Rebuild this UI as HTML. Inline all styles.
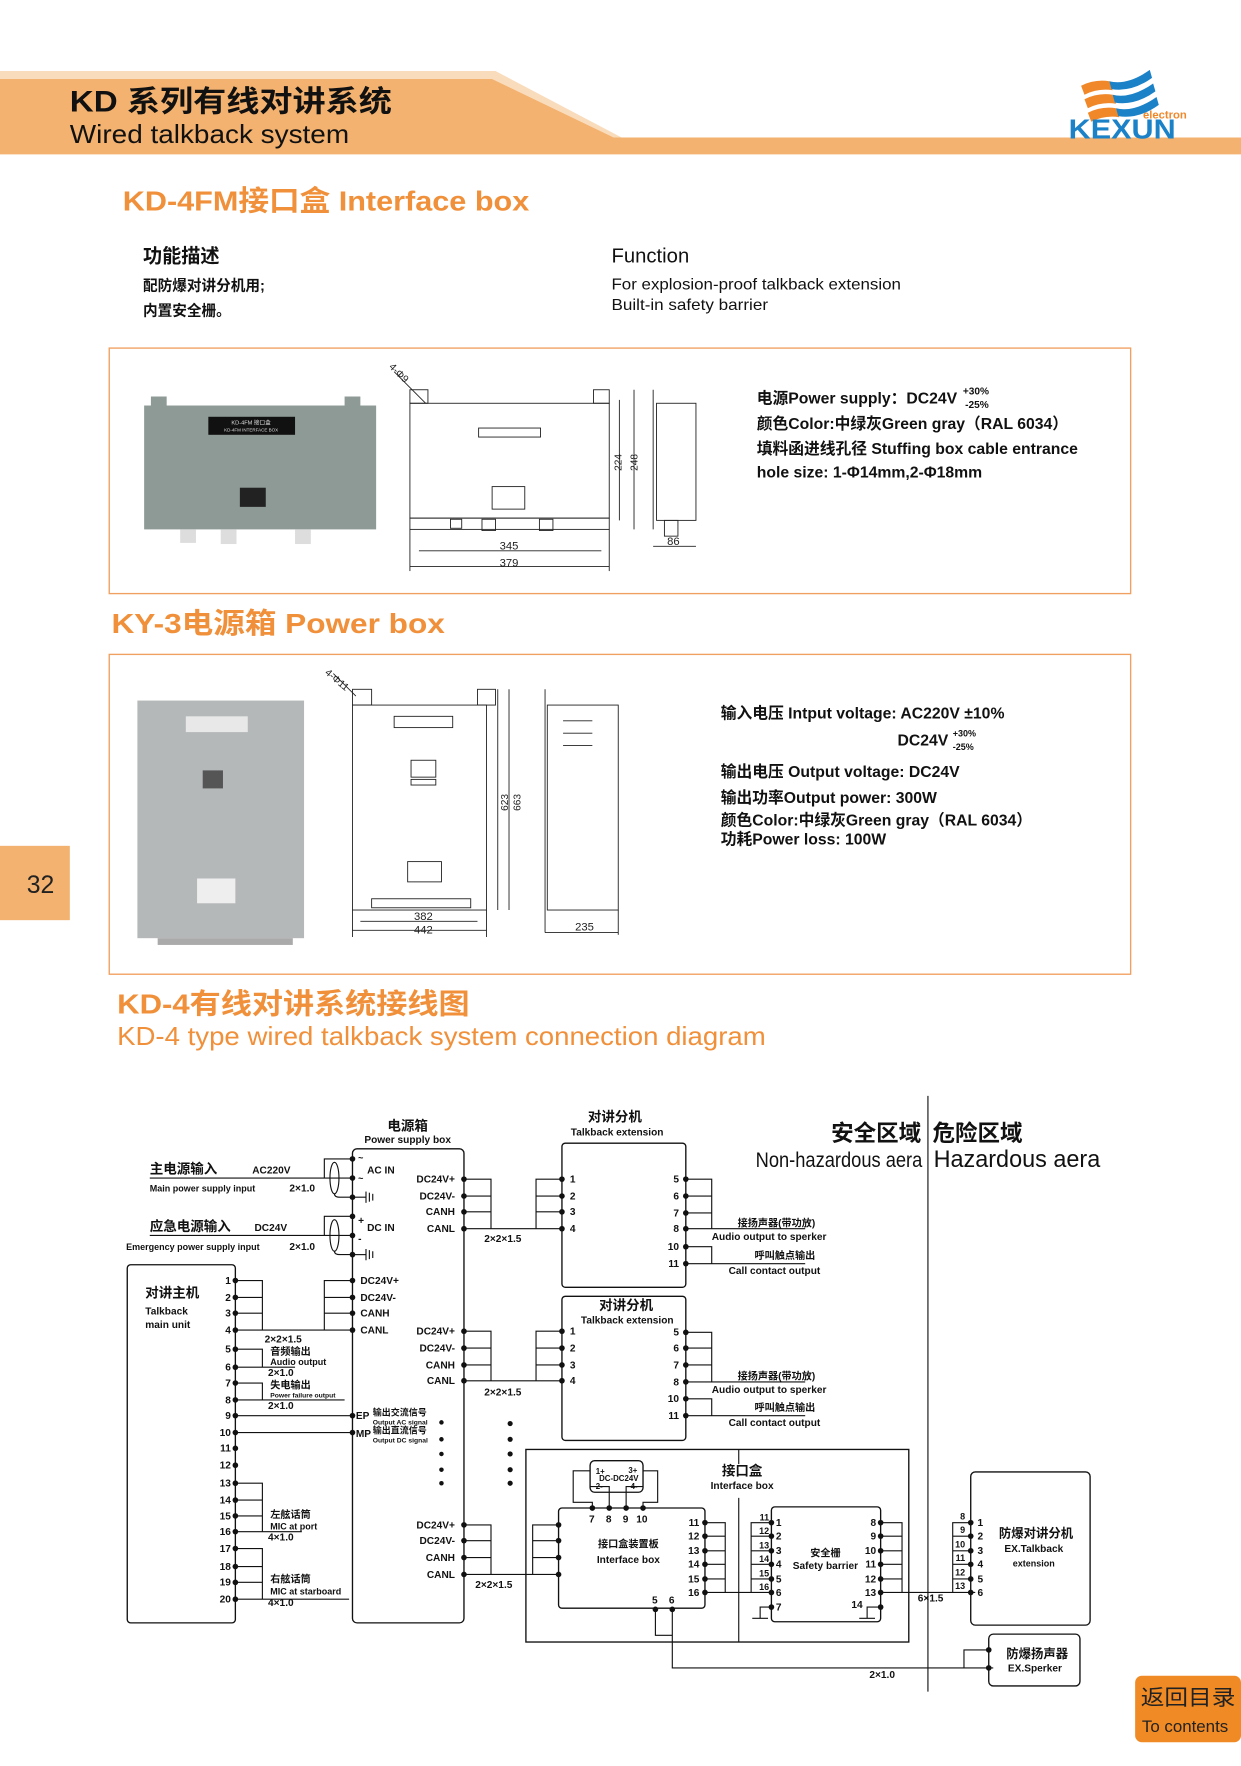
<!DOCTYPE html>
<html><head><meta charset="utf-8">
<style>
html,body{margin:0;padding:0;background:#fff;}
svg{display:block;}
text{font-family:"Liberation Sans","Noto Sans CJK SC",sans-serif;}
.b{font-weight:bold;}
.d text{font-weight:bold;fill:#111;}
.d line,.d polyline,.d path{stroke:#111;stroke-width:1;fill:none;}
.d rect{stroke:#111;stroke-width:1.2;fill:none;}
.d circle{fill:#111;}
.dr line,.dr rect,.dr polyline{stroke:#222;stroke-width:0.8;fill:none;}
.dr text{fill:#222;}
</style></head><body>
<svg width="1241" height="1766" viewBox="0 0 1102 1568" xmlns="http://www.w3.org/2000/svg">
<!-- header -->
<polygon points="0,63 440,63 552,122 545,122 437,70 0,70" fill="#f9dcbc"/>
<polygon points="0,70 437,70 545,122 1102,122 1102,137 0,137" fill="#f3b26f"/>
<text x="62" y="99" font-size="26" class="b" fill="#111" textLength="286" lengthAdjust="spacingAndGlyphs">KD 系列有线对讲系统</text>
<text x="62" y="127" font-size="23" fill="#111" textLength="248" lengthAdjust="spacingAndGlyphs">Wired talkback system</text>
<!-- logo -->
<g>
<path d="M960,76 q12,-6 25,-4 l3,8 q-13,-2 -25,4z" fill="#f0882a"/>
<path d="M963,88 q12,-6 25,-4 l3,8 q-13,-2 -25,4z" fill="#f0882a"/>
<path d="M966,100 q12,-6 25,-4 l3,8 q-13,-2 -25,4z" fill="#f0882a"/>
<path d="M985,72 q16,4 36,-10 l2,7 q-18,13 -36,10z" fill="#1b82c8"/>
<path d="M988,84 q16,4 36,-10 l2,7 q-18,13 -36,10z" fill="#1b82c8"/>
<path d="M991,96 q16,4 36,-10 l2,7 q-18,13 -36,10z" fill="#1b82c8"/>
<text x="1015" y="105" font-size="10" fill="#f0882a" class="b">electron</text>
<text x="949" y="123" font-size="25" fill="#1b82c8" class="b" textLength="95" lengthAdjust="spacingAndGlyphs">KEXUN</text>
</g>
<text x="109" y="187" font-size="25" fill="#f0903a" class="b" textLength="361" lengthAdjust="spacingAndGlyphs">KD-4FM接口盒 Interface box</text>
<text x="127" y="233" font-size="17" class="b" fill="#111">功能描述</text>
<text x="127" y="258" font-size="13" class="b" fill="#111">配防爆对讲分机用;</text>
<text x="127" y="280" font-size="13" class="b" fill="#111">内置安全栅。</text>
<text x="543" y="233" font-size="18" fill="#111">Function</text>
<text x="543" y="257" font-size="14" fill="#111" textLength="257" lengthAdjust="spacingAndGlyphs">For explosion-proof talkback extension</text>
<text x="543" y="275" font-size="14" fill="#111" textLength="139" lengthAdjust="spacingAndGlyphs">Built-in safety barrier</text>
<!-- box 1 -->
<rect x="97" y="309" width="907" height="218" fill="none" stroke="#f0a060" stroke-width="1.2"/>
<rect x="128" y="360" width="206" height="110" fill="#8d9a95"/>
<rect x="134" y="352" width="14" height="10" fill="#8d9a95"/><rect x="306" y="352" width="14" height="10" fill="#8d9a95"/>
<rect x="185" y="370" width="77" height="16" fill="#111"/>
<text x="223" y="377" font-size="5" fill="#ddd" text-anchor="middle">KD-4FM 接口盒</text>
<text x="223" y="383" font-size="4" fill="#ddd" text-anchor="middle">KD-4FM INTERFACE BOX</text>
<rect x="213" y="433" width="23" height="17" fill="#222"/>
<rect x="160" y="470" width="14" height="12" fill="#ddd"/><rect x="196" y="470" width="14" height="13" fill="#ddd"/><rect x="262" y="470" width="14" height="13" fill="#ddd"/>
<g class="dr">
<rect x="364" y="358" width="177" height="102"/>
<rect x="364" y="346" width="16" height="12"/><rect x="527" y="346" width="14" height="12"/>
<rect x="364" y="460" width="177" height="10"/>
<rect x="425" y="380" width="55" height="8"/><rect x="437" y="432" width="29" height="20"/>
<rect x="400" y="461" width="10" height="8"/><rect x="428" y="461" width="12" height="10"/><rect x="479" y="461" width="12" height="10"/>
<line x1="372" y1="489" x2="534" y2="489"/><line x1="364" y1="503" x2="541" y2="503"/>
<line x1="364" y1="470" x2="364" y2="507"/><line x1="541" y1="470" x2="541" y2="507"/>
<line x1="550" y1="355" x2="550" y2="462"/><line x1="563" y1="346" x2="563" y2="470"/>
<line x1="580" y1="346" x2="580" y2="470"/><rect x="583" y="358" width="35" height="104"/>
<rect x="590" y="462" width="12" height="14"/>
<line x1="580" y1="485" x2="618" y2="485"/>
<line x1="350" y1="330" x2="378" y2="358"/>
</g>
<text x="452" y="488" font-size="10" text-anchor="middle" fill="#222">345</text>
<text x="452" y="503" font-size="10" text-anchor="middle" fill="#222">379</text>
<text x="598" y="484" font-size="10" text-anchor="middle" fill="#222">86</text>
<text transform="translate(552,418) rotate(-90)" font-size="9" fill="#222">224</text>
<text transform="translate(566,418) rotate(-90)" font-size="9" fill="#222">248</text>
<text transform="translate(345,326) rotate(45)" font-size="9" fill="#222">4-Φ9</text>
<text x="672" y="358" font-size="14" class="b" fill="#111">电源Power supply：DC24V</text>
<text x="855" y="350" font-size="9" class="b" fill="#111">+30%</text>
<text x="857" y="362" font-size="9" class="b" fill="#111">-25%</text>
<text x="672" y="381" font-size="14" class="b" fill="#111">颜色Color:中绿灰Green gray（RAL 6034）</text>
<text x="672" y="403" font-size="14" class="b" fill="#111">填料函进线孔径 Stuffing box cable entrance</text>
<text x="672" y="424" font-size="14" class="b" fill="#111">hole size: 1-Φ14mm,2-Φ18mm</text>
<!-- box 2 -->
<text x="99" y="562" font-size="25" fill="#f0903a" class="b" textLength="296" lengthAdjust="spacingAndGlyphs">KY-3电源箱  Power box</text>
<rect x="97" y="581" width="907" height="284" fill="none" stroke="#f0a060" stroke-width="1.2"/>
<rect x="122" y="622" width="148" height="211" fill="#b5b8b9"/>
<rect x="165" y="636" width="55" height="14" fill="#e8e8e8"/>
<rect x="180" y="684" width="18" height="16" fill="#555"/>
<rect x="175" y="780" width="34" height="22" fill="#eee"/>
<rect x="140" y="833" width="120" height="6" fill="#aaa"/>
<g class="dr">
<rect x="313" y="626" width="119" height="182"/>
<rect x="313" y="612" width="17" height="14"/><rect x="424" y="612" width="16" height="14"/>
<rect x="330" y="798" width="88" height="8"/>
<rect x="350" y="636" width="52" height="10"/><rect x="365" y="675" width="22" height="15"/><rect x="365" y="692" width="22" height="5"/>
<rect x="362" y="765" width="30" height="18"/>
<line x1="313" y1="808" x2="313" y2="832"/><line x1="432" y1="808" x2="432" y2="832"/>
<line x1="320" y1="818" x2="424" y2="818"/><line x1="313" y1="826" x2="432" y2="826"/>
<line x1="442" y1="612" x2="442" y2="808"/><line x1="452" y1="612" x2="452" y2="808"/>
<line x1="484" y1="612" x2="484" y2="828"/><rect x="486" y="626" width="63" height="182"/>
<line x1="500" y1="640" x2="526" y2="640"/><line x1="500" y1="651" x2="526" y2="651"/><line x1="500" y1="662" x2="526" y2="662"/>
<line x1="549" y1="808" x2="549" y2="830"/><line x1="484" y1="828" x2="549" y2="828"/>
<line x1="296" y1="598" x2="316" y2="618"/>
</g>
<text x="376" y="817" font-size="10" text-anchor="middle" fill="#222">382</text>
<text x="376" y="829" font-size="10" text-anchor="middle" fill="#222">442</text>
<text x="519" y="826" font-size="10" text-anchor="middle" fill="#222">235</text>
<text transform="translate(451,720) rotate(-90)" font-size="9" fill="#222">623</text>
<text transform="translate(462,720) rotate(-90)" font-size="9" fill="#222">663</text>
<text transform="translate(288,598) rotate(40)" font-size="9" fill="#222">4-Φ11</text>
<text x="640" y="638" font-size="14" class="b" fill="#111">输入电压 Intput voltage: AC220V ±10%</text>
<text x="797" y="662" font-size="14" class="b" fill="#111">DC24V</text>
<text x="846" y="654" font-size="8" class="b" fill="#111">+30%</text>
<text x="846" y="666" font-size="8" class="b" fill="#111">-25%</text>
<text x="640" y="690" font-size="14" class="b" fill="#111">输出电压 Output voltage:  DC24V</text>
<text x="640" y="713" font-size="14" class="b" fill="#111">输出功率Output power: 300W</text>
<text x="640" y="733" font-size="14" class="b" fill="#111">颜色Color:中绿灰Green gray（RAL 6034）</text>
<text x="640" y="750" font-size="14" class="b" fill="#111">功耗Power loss: 100W</text>
<!-- page tab -->
<rect x="0" y="751" width="62" height="66" fill="#f3b26f"/>
<text x="36" y="793" font-size="22" fill="#222" text-anchor="middle">32</text>
<!-- diagram title -->
<text x="104" y="900" font-size="25" fill="#f0903a" class="b" textLength="313" lengthAdjust="spacingAndGlyphs">KD-4有线对讲系统接线图</text>
<text x="104" y="928" font-size="23" fill="#f0903a" textLength="576" lengthAdjust="spacingAndGlyphs">KD-4  type wired talkback system connection diagram</text>

<g class="d">
<line x1="824" y1="973" x2="824" y2="1502"/>
<text x="818" y="1013" font-size="20" text-anchor="end">安全区域</text>
<text x="828" y="1013" font-size="20">危险区域</text>
<text x="671" y="1036" font-size="19" style="font-weight:normal" textLength="148" lengthAdjust="spacingAndGlyphs">Non-hazardous aera</text>
<text x="829" y="1036" font-size="21" style="font-weight:normal" textLength="148" lengthAdjust="spacingAndGlyphs">Hazardous aera</text>

<!-- power box -->
<rect x="313" y="1020" width="99" height="421" rx="4"/>
<text x="362" y="1004" font-size="12" text-anchor="middle">电源箱</text>
<text x="362" y="1015" font-size="9" text-anchor="middle">Power supply box</text>
<text x="318" y="1031" font-size="8">~</text>
<text x="326" y="1042" font-size="9">AC IN</text>
<text x="318" y="1049" font-size="8">~</text>
<text x="318" y="1087" font-size="9">+</text>
<text x="326" y="1093" font-size="9">DC IN</text>
<text x="318" y="1103" font-size="9">-</text>
<g font-size="9">
<text x="404" y="1050" text-anchor="end">DC24V+</text><text x="404" y="1065" text-anchor="end">DC24V-</text><text x="404" y="1079" text-anchor="end">CANH</text><text x="404" y="1094" text-anchor="end">CANL</text>
<text x="320" y="1140">DC24V+</text><text x="320" y="1155">DC24V-</text><text x="320" y="1169">CANH</text><text x="320" y="1184">CANL</text>
<text x="404" y="1185" text-anchor="end">DC24V+</text><text x="404" y="1200" text-anchor="end">DC24V-</text><text x="404" y="1215" text-anchor="end">CANH</text><text x="404" y="1229" text-anchor="end">CANL</text>
<text x="404" y="1357" text-anchor="end">DC24V+</text><text x="404" y="1371" text-anchor="end">DC24V-</text><text x="404" y="1386" text-anchor="end">CANH</text><text x="404" y="1401" text-anchor="end">CANL</text>
</g>
<text x="316" y="1260" font-size="9">EP</text><text x="331" y="1257" font-size="8">输出交流信号</text><text x="331" y="1265" font-size="6">Output AC signal</text>
<text x="316" y="1276" font-size="9">MP</text><text x="331" y="1273" font-size="8">输出直流信号</text><text x="331" y="1281" font-size="6">Output DC signal</text>
<g>
<circle cx="313" cy="1029" r="2.5"/><circle cx="313" cy="1046" r="2.5"/><circle cx="313" cy="1063" r="2.5"/>
<circle cx="313" cy="1080" r="2.5"/><circle cx="313" cy="1097" r="2.5"/><circle cx="313" cy="1114" r="2.5"/>
<circle cx="313" cy="1137" r="2.5"/><circle cx="313" cy="1152" r="2.5"/><circle cx="313" cy="1166" r="2.5"/><circle cx="313" cy="1181" r="2.5"/>
<circle cx="313" cy="1257" r="2.5"/><circle cx="313" cy="1272" r="2.5"/>
<circle cx="412" cy="1047" r="2.5"/><circle cx="412" cy="1062" r="2.5"/><circle cx="412" cy="1076" r="2.5"/><circle cx="412" cy="1091" r="2.5"/>
<circle cx="412" cy="1182" r="2.5"/><circle cx="412" cy="1197" r="2.5"/><circle cx="412" cy="1212" r="2.5"/><circle cx="412" cy="1226" r="2.5"/>
<circle cx="412" cy="1354" r="2.5"/><circle cx="412" cy="1368" r="2.5"/><circle cx="412" cy="1383" r="2.5"/><circle cx="412" cy="1398" r="2.5"/>
<circle cx="392" cy="1263" r="2"/><circle cx="392" cy="1278" r="2"/><circle cx="392" cy="1291" r="2"/><circle cx="392" cy="1305" r="2"/><circle cx="392" cy="1317" r="2"/>
<circle cx="453" cy="1264" r="2.3"/><circle cx="453" cy="1278" r="2.3"/><circle cx="453" cy="1291" r="2.3"/><circle cx="453" cy="1305" r="2.3"/><circle cx="453" cy="1317" r="2.3"/>
</g>
<!-- mains input -->
<text x="133" y="1042" font-size="12">主电源输入</text><text x="224" y="1042" font-size="9">AC220V</text>
<line x1="133" y1="1046" x2="313" y2="1046"/>
<text x="133" y="1058" font-size="8">Main power supply input</text><text x="257" y="1058" font-size="9">2×1.0</text>
<polyline points="313,1029 288,1029 288,1046"/>
<ellipse cx="297" cy="1046" rx="4" ry="14" fill="none" stroke="#111"/>
<path d="M297,1060 q0,3 5,3 L313,1063"/>
<line x1="313" y1="1063" x2="325" y2="1063"/><line x1="325" y1="1058" x2="325" y2="1068"/><line x1="328" y1="1059" x2="328" y2="1067"/><line x1="331" y1="1060" x2="331" y2="1066"/>
<text x="133" y="1093" font-size="12">应急电源输入</text><text x="226" y="1093" font-size="9">DC24V</text>
<line x1="133" y1="1097" x2="313" y2="1097"/>
<text x="112" y="1110" font-size="8">Emergency power supply input</text><text x="257" y="1110" font-size="9">2×1.0</text>
<polyline points="313,1080 288,1080 288,1097"/>
<ellipse cx="297" cy="1097" rx="4" ry="14" fill="none" stroke="#111"/>
<path d="M297,1111 q0,3 5,3 L313,1114"/>
<line x1="313" y1="1114" x2="325" y2="1114"/><line x1="325" y1="1109" x2="325" y2="1119"/><line x1="328" y1="1110" x2="328" y2="1118"/><line x1="331" y1="1111" x2="331" y2="1117"/>

<!-- talkback main -->
<rect x="113" y="1123" width="96" height="318" rx="3"/>
<text x="129" y="1152" font-size="12">对讲主机</text>
<text x="129" y="1167" font-size="9">Talkback</text>
<text x="129" y="1179" font-size="9">main unit</text>
<g font-size="9" text-anchor="end">
<text x="205" y="1140">1</text><text x="205" y="1155">2</text><text x="205" y="1169">3</text><text x="205" y="1184">4</text><text x="205" y="1201">5</text><text x="205" y="1217">6</text><text x="205" y="1231">7</text><text x="205" y="1246">8</text><text x="205" y="1260">9</text><text x="205" y="1275">10</text><text x="205" y="1289">11</text><text x="205" y="1304">12</text><text x="205" y="1320">13</text><text x="205" y="1335">14</text><text x="205" y="1349">15</text><text x="205" y="1363">16</text><text x="205" y="1378">17</text><text x="205" y="1394">18</text><text x="205" y="1408">19</text><text x="205" y="1423">20</text>
</g>
<g>
<circle cx="209" cy="1137" r="2.5"/><circle cx="209" cy="1152" r="2.5"/><circle cx="209" cy="1166" r="2.5"/><circle cx="209" cy="1181" r="2.5"/><circle cx="209" cy="1198" r="2.5"/><circle cx="209" cy="1214" r="2.5"/><circle cx="209" cy="1228" r="2.5"/><circle cx="209" cy="1243" r="2.5"/><circle cx="209" cy="1257" r="2.5"/><circle cx="209" cy="1272" r="2.5"/><circle cx="209" cy="1286" r="2.5"/><circle cx="209" cy="1301" r="2.5"/><circle cx="209" cy="1317" r="2.5"/><circle cx="209" cy="1332" r="2.5"/><circle cx="209" cy="1346" r="2.5"/><circle cx="209" cy="1360" r="2.5"/><circle cx="209" cy="1375" r="2.5"/><circle cx="209" cy="1391" r="2.5"/><circle cx="209" cy="1405" r="2.5"/><circle cx="209" cy="1420" r="2.5"/>
</g>
<polyline points="209,1137 233,1137 233,1181"/><line x1="209" y1="1152" x2="233" y2="1152"/><line x1="209" y1="1166" x2="233" y2="1166"/>
<line x1="209" y1="1181" x2="313" y2="1181"/>
<polyline points="313,1137 288,1137 288,1181"/><line x1="288" y1="1152" x2="313" y2="1152"/><line x1="288" y1="1166" x2="313" y2="1166"/>
<text x="235" y="1192" font-size="9">2×2×1.5</text>
<polyline points="209,1198 233,1198 233,1214"/><line x1="209" y1="1214" x2="262" y2="1214"/>
<text x="240" y="1203" font-size="9">音频输出</text><text x="240" y="1212" font-size="8">Audio output</text><text x="238" y="1222" font-size="9">2×1.0</text>
<polyline points="209,1228 233,1228 233,1243"/><line x1="209" y1="1243" x2="306" y2="1243"/>
<text x="240" y="1233" font-size="9">失电输出</text><text x="240" y="1241" font-size="6">Power failure output</text><text x="238" y="1251" font-size="9">2×1.0</text>
<line x1="209" y1="1257" x2="313" y2="1257"/><line x1="209" y1="1272" x2="313" y2="1272"/>
<polyline points="209,1317 233,1317 233,1360"/><line x1="209" y1="1332" x2="233" y2="1332"/><line x1="209" y1="1346" x2="233" y2="1346"/><line x1="209" y1="1360" x2="268" y2="1360"/>
<text x="240" y="1348" font-size="9">左舷话筒</text><text x="240" y="1358" font-size="8">MIC at port</text><text x="238" y="1368" font-size="9">4×1.0</text>
<polyline points="209,1375 233,1375 233,1420"/><line x1="209" y1="1391" x2="233" y2="1391"/><line x1="209" y1="1405" x2="233" y2="1405"/><line x1="209" y1="1420" x2="310" y2="1420"/>
<text x="240" y="1405" font-size="9">右舷话筒</text><text x="240" y="1416" font-size="8">MIC at starboard</text><text x="238" y="1426" font-size="9">4×1.0</text>

<!-- ext 1 -->
<rect x="499" y="1015" width="110" height="128" rx="3"/>
<text x="546" y="996" font-size="12" text-anchor="middle">对讲分机</text>
<text x="548" y="1008" font-size="9" text-anchor="middle">Talkback extension</text>
<polyline points="412,1047 436,1047 436,1091"/><line x1="412" y1="1062" x2="436" y2="1062"/><line x1="412" y1="1076" x2="436" y2="1076"/>
<line x1="412" y1="1091" x2="499" y2="1091"/>
<polyline points="499,1047 476,1047 476,1091"/><line x1="476" y1="1062" x2="499" y2="1062"/><line x1="476" y1="1076" x2="499" y2="1076"/>
<text x="430" y="1103" font-size="9">2×2×1.5</text>
<g font-size="9"><text x="506" y="1050">1</text><text x="506" y="1065">2</text><text x="506" y="1079">3</text><text x="506" y="1094">4</text></g>
<circle cx="499" cy="1047" r="2.5"/><circle cx="499" cy="1062" r="2.5"/><circle cx="499" cy="1076" r="2.5"/><circle cx="499" cy="1091" r="2.5"/>
<g font-size="9" text-anchor="end"><text x="603" y="1050">5</text><text x="603" y="1065">6</text><text x="603" y="1080">7</text><text x="603" y="1094">8</text><text x="603" y="1110">10</text><text x="603" y="1125">11</text></g>
<circle cx="609" cy="1047" r="2.5"/><circle cx="609" cy="1062" r="2.5"/><circle cx="609" cy="1077" r="2.5"/><circle cx="609" cy="1091" r="2.5"/><circle cx="609" cy="1107" r="2.5"/><circle cx="609" cy="1122" r="2.5"/>
<polyline points="609,1047 632,1047 632,1091"/><line x1="609" y1="1062" x2="632" y2="1062"/><line x1="609" y1="1077" x2="632" y2="1077"/>
<line x1="609" y1="1091" x2="715" y2="1091"/>
<text x="655" y="1089" font-size="9">接扬声器(带功放)</text><text x="632" y="1101" font-size="9">Audio output to sperker</text>
<polyline points="609,1107 632,1107 632,1122"/><line x1="609" y1="1122" x2="715" y2="1122"/>
<text x="670" y="1118" font-size="9">呼叫触点输出</text><text x="647" y="1131" font-size="9">Call contact output</text>

<!-- ext 2 -->
<rect x="499" y="1151" width="110" height="128" rx="3"/>
<text x="556" y="1163" font-size="12" text-anchor="middle">对讲分机</text>
<text x="557" y="1175" font-size="9" text-anchor="middle">Talkback extension</text>
<polyline points="412,1182 436,1182 436,1226"/><line x1="412" y1="1197" x2="436" y2="1197"/><line x1="412" y1="1212" x2="436" y2="1212"/>
<line x1="412" y1="1226" x2="499" y2="1226"/>
<polyline points="499,1182 476,1182 476,1226"/><line x1="476" y1="1197" x2="499" y2="1197"/><line x1="476" y1="1212" x2="499" y2="1212"/>
<text x="430" y="1239" font-size="9">2×2×1.5</text>
<g font-size="9"><text x="506" y="1185">1</text><text x="506" y="1200">2</text><text x="506" y="1215">3</text><text x="506" y="1229">4</text></g>
<circle cx="499" cy="1182" r="2.5"/><circle cx="499" cy="1197" r="2.5"/><circle cx="499" cy="1212" r="2.5"/><circle cx="499" cy="1226" r="2.5"/>
<g font-size="9" text-anchor="end"><text x="603" y="1186">5</text><text x="603" y="1200">6</text><text x="603" y="1215">7</text><text x="603" y="1230">8</text><text x="603" y="1245">10</text><text x="603" y="1260">11</text></g>
<circle cx="609" cy="1183" r="2.5"/><circle cx="609" cy="1197" r="2.5"/><circle cx="609" cy="1212" r="2.5"/><circle cx="609" cy="1227" r="2.5"/><circle cx="609" cy="1242" r="2.5"/><circle cx="609" cy="1257" r="2.5"/>
<polyline points="609,1183 632,1183 632,1227"/><line x1="609" y1="1197" x2="632" y2="1197"/><line x1="609" y1="1212" x2="632" y2="1212"/>
<line x1="609" y1="1227" x2="715" y2="1227"/>
<text x="655" y="1225" font-size="9">接扬声器(带功放)</text><text x="632" y="1237" font-size="9">Audio output to sperker</text>
<polyline points="609,1242 632,1242 632,1257"/><line x1="609" y1="1257" x2="715" y2="1257"/>
<text x="670" y="1253" font-size="9">呼叫触点输出</text><text x="647" y="1266" font-size="9">Call contact output</text>

<!-- interface box -->
<rect x="467" y="1287" width="340" height="171" rx="0"/>
<line x1="656" y1="1287" x2="656" y2="1300"/><line x1="656" y1="1330" x2="656" y2="1458"/>
<text x="659" y="1310" font-size="12" text-anchor="middle">接口盒</text>
<text x="659" y="1322" font-size="9" text-anchor="middle">Interface box</text>
<rect x="524" y="1297" width="47" height="28" rx="4"/>
<text x="529" y="1309" font-size="7">1+</text><text x="529" y="1322" font-size="7">2-</text><text x="532" y="1315" font-size="7">DC-DC24V</text>
<text x="558" y="1308" font-size="7">3+</text><text x="560" y="1322" font-size="7">4-</text>
<polyline points="526,1339 526,1334 509,1334 509,1306 524,1306"/>
<polyline points="541,1339 541,1320 524,1320"/>
<polyline points="556,1339 556,1320 571,1320"/>
<polyline points="571,1339 571,1334 584,1334 584,1306 571,1306"/>
<rect x="496" y="1339" width="130" height="89" rx="3"/>
<circle cx="526" cy="1339" r="2.5"/><circle cx="541" cy="1339" r="2.5"/><circle cx="556" cy="1339" r="2.5"/><circle cx="571" cy="1339" r="2.5"/>
<g font-size="9"><text x="523" y="1352">7</text><text x="538" y="1352">8</text><text x="553" y="1352">9</text><text x="565" y="1352">10</text></g>
<text x="558" y="1374" font-size="9" text-anchor="middle">接口盒装置板</text>
<text x="558" y="1388" font-size="9" text-anchor="middle">Interface box</text>
<polyline points="412,1354 436,1354 436,1398"/><line x1="412" y1="1368" x2="436" y2="1368"/><line x1="412" y1="1383" x2="436" y2="1383"/>
<line x1="412" y1="1398" x2="496" y2="1398"/>
<polyline points="496,1354 473,1354 473,1398"/><line x1="473" y1="1368" x2="496" y2="1368"/><line x1="473" y1="1383" x2="496" y2="1383"/>
<circle cx="496" cy="1354" r="2.5"/><circle cx="496" cy="1368" r="2.5"/><circle cx="496" cy="1383" r="2.5"/><circle cx="496" cy="1398" r="2.5"/>
<text x="422" y="1410" font-size="9">2×2×1.5</text>
<g font-size="9" text-anchor="end"><text x="621" y="1355">11</text><text x="621" y="1367">12</text><text x="621" y="1380">13</text><text x="621" y="1392">14</text><text x="621" y="1405">15</text><text x="621" y="1417">16</text></g>
<circle cx="626" cy="1352" r="2.5"/><circle cx="626" cy="1364" r="2.5"/><circle cx="626" cy="1377" r="2.5"/><circle cx="626" cy="1389" r="2.5"/><circle cx="626" cy="1402" r="2.5"/><circle cx="626" cy="1414" r="2.5"/>
<polyline points="626,1352 644,1352 644,1414"/><line x1="626" y1="1364" x2="644" y2="1364"/><line x1="626" y1="1377" x2="644" y2="1377"/><line x1="626" y1="1389" x2="644" y2="1389"/><line x1="626" y1="1402" x2="644" y2="1402"/>
<line x1="626" y1="1414" x2="685" y2="1414"/>
<text x="579" y="1424" font-size="9">5</text><text x="594" y="1424" font-size="9">6</text>
<circle cx="582" cy="1429" r="2.5"/><circle cx="597" cy="1429" r="2.5"/>
<polyline points="582,1429 582,1452 597,1452"/>
<polyline points="597,1429 597,1481 882,1481"/>
<!-- safety barrier -->
<rect x="685" y="1338" width="97" height="102" rx="3"/>
<text x="733" y="1382" font-size="9" text-anchor="middle">安全栅</text>
<text x="733" y="1393" font-size="9" text-anchor="middle">Safety barrier</text>
<g font-size="9"><text x="689" y="1355">1</text><text x="689" y="1367">2</text><text x="689" y="1380">3</text><text x="689" y="1392">4</text><text x="689" y="1405">5</text><text x="689" y="1417">6</text><text x="689" y="1430">7</text></g>
<g font-size="8" text-anchor="end"><text x="683" y="1350">11</text><text x="683" y="1362">12</text><text x="683" y="1375">13</text><text x="683" y="1387">14</text><text x="683" y="1400">15</text><text x="683" y="1412">16</text></g>
<circle cx="685" cy="1352" r="2.5"/><circle cx="685" cy="1364" r="2.5"/><circle cx="685" cy="1377" r="2.5"/><circle cx="685" cy="1389" r="2.5"/><circle cx="685" cy="1402" r="2.5"/><circle cx="685" cy="1414" r="2.5"/><circle cx="685" cy="1427" r="2.5"/>
<polyline points="685,1352 667,1352 667,1414"/><line x1="667" y1="1364" x2="685" y2="1364"/><line x1="667" y1="1377" x2="685" y2="1377"/><line x1="667" y1="1389" x2="685" y2="1389"/><line x1="667" y1="1402" x2="685" y2="1402"/>
<polyline points="685,1427 675,1427 675,1437"/><line x1="668" y1="1437" x2="682" y2="1437"/>
<g font-size="9" text-anchor="end"><text x="778" y="1355">8</text><text x="778" y="1367">9</text><text x="778" y="1380">10</text><text x="778" y="1392">11</text><text x="778" y="1405">12</text><text x="778" y="1417">13</text><text x="766" y="1428">14</text></g>
<circle cx="782" cy="1352" r="2.5"/><circle cx="782" cy="1364" r="2.5"/><circle cx="782" cy="1377" r="2.5"/><circle cx="782" cy="1389" r="2.5"/><circle cx="782" cy="1402" r="2.5"/><circle cx="782" cy="1414" r="2.5"/><circle cx="782" cy="1427" r="2.5"/>
<polyline points="782,1352 801,1352 801,1414"/><line x1="782" y1="1364" x2="801" y2="1364"/><line x1="782" y1="1377" x2="801" y2="1377"/><line x1="782" y1="1389" x2="801" y2="1389"/><line x1="782" y1="1402" x2="801" y2="1402"/>
<line x1="782" y1="1414" x2="866" y2="1414"/>
<polyline points="782,1427 770,1427 770,1437"/><line x1="763" y1="1437" x2="777" y2="1437"/>
<text x="815" y="1422" font-size="9">6×1.5</text>
<!-- EX talkback -->
<rect x="862" y="1307" width="106" height="136" rx="4"/>
<text x="920" y="1365" font-size="11" text-anchor="middle">防爆对讲分机</text>
<text x="918" y="1378" font-size="9" text-anchor="middle">EX.Talkback</text>
<text x="918" y="1391" font-size="8" text-anchor="middle">extension</text>
<g font-size="9"><text x="868" y="1355">1</text><text x="868" y="1367">2</text><text x="868" y="1380">3</text><text x="868" y="1392">4</text><text x="868" y="1405">5</text><text x="868" y="1417">6</text></g>
<g font-size="8" text-anchor="end"><text x="857" y="1349">8</text><text x="857" y="1361">9</text><text x="857" y="1374">10</text><text x="857" y="1386">11</text><text x="857" y="1399">12</text><text x="857" y="1411">13</text></g>
<circle cx="862" cy="1352" r="2.5"/><circle cx="862" cy="1364" r="2.5"/><circle cx="862" cy="1377" r="2.5"/><circle cx="862" cy="1389" r="2.5"/><circle cx="862" cy="1402" r="2.5"/><circle cx="862" cy="1414" r="2.5"/>
<polyline points="862,1352 846,1352 846,1414"/><line x1="846" y1="1364" x2="862" y2="1364"/><line x1="846" y1="1377" x2="862" y2="1377"/><line x1="846" y1="1389" x2="862" y2="1389"/><line x1="846" y1="1402" x2="862" y2="1402"/>
<!-- EX speaker -->
<rect x="878" y="1451" width="81" height="46" rx="4"/>
<text x="921" y="1472" font-size="11" text-anchor="middle">防爆扬声器</text>
<text x="919" y="1484" font-size="9" text-anchor="middle">EX.Sperker</text>
<circle cx="878" cy="1465" r="2.5"/><circle cx="878" cy="1481" r="2.5"/>
<polyline points="878,1465 856,1465 856,1481"/>
<text x="772" y="1490" font-size="9">2×1.0</text>
</g>
<!-- return button -->
<rect x="1008" y="1488" width="94" height="59" rx="6" fill="#f08a24"/>
<text x="1013" y="1514" font-size="19" fill="#222" textLength="84" lengthAdjust="spacingAndGlyphs">返回目录</text>
<text x="1014" y="1538" font-size="15" fill="#222" font-family="Liberation Mono">To contents</text>
</svg>
</body></html>
